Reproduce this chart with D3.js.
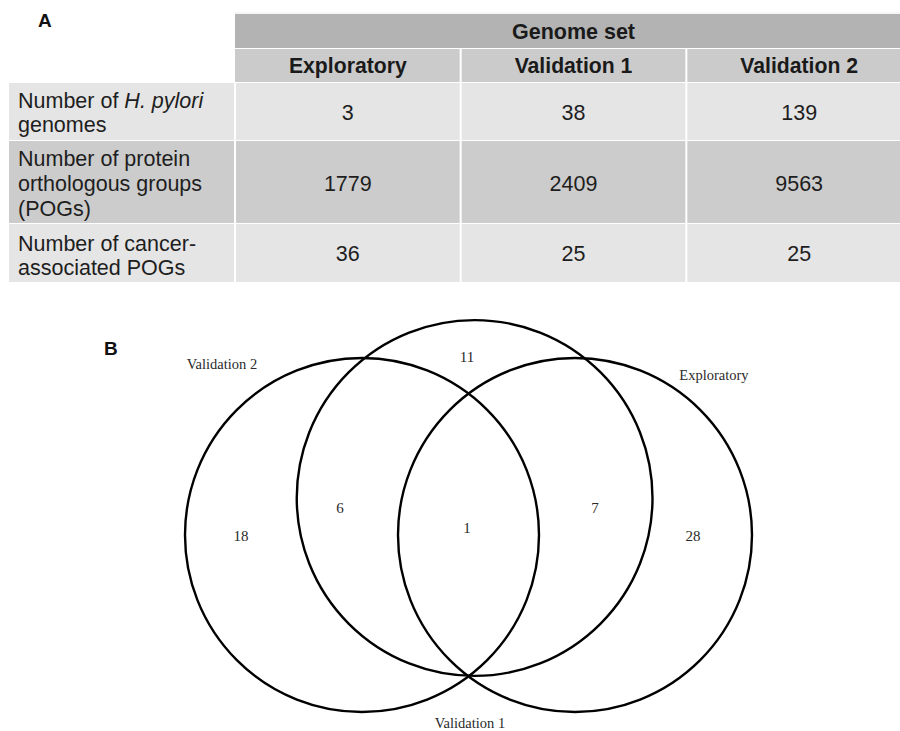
<!DOCTYPE html>
<html>
<head>
<meta charset="utf-8">
<script src="https://cdn.jsdelivr.net/npm/d3@7"></script>
<style>
  html, body { margin: 0; padding: 0; background: #fff; }
  svg { display: block; }
</style>
</head>
<body>
<svg id="fig" width="900" height="731"></svg>
<script>
// ---- Panel A: genome set summary table ----
const genomeSets = ["Exploratory", "Validation 1", "Validation 2"];
const rowLabels = [
  [["Number of ", false], ["H. pylori", true], ["|genomes", false]],
  [["Number of protein", false], ["|orthologous groups", false], ["|(POGs)", false]],
  [["Number of cancer-", false], ["|associated POGs", false]]
];
const genomeCounts = [3, 38, 139];
const pogCounts = [1779, 2409, 9563];
const cancerPogCounts = [36, 25, 25];
const tableRows = [genomeCounts, pogCounts, cancerPogCounts];

// ---- Panel B: overlap of cancer-associated POGs ----
const vennSets = ["Validation 2", "Validation 1", "Exploratory"];
// region counts keyed by membership (V2, V1, Exp)
const vennRegions = [
  { sets: ["Validation 2"], count: 18 },
  { sets: ["Validation 1"], count: 11 },
  { sets: ["Exploratory"], count: 28 },
  { sets: ["Validation 2", "Validation 1"], count: 6 },
  { sets: ["Validation 1", "Exploratory"], count: 7 },
  { sets: ["Validation 2", "Validation 1", "Exploratory"], count: 1 }
];

const svg = d3.select("#fig");
const sans = "'Liberation Sans', Arial, sans-serif";
const serif = "'Liberation Serif', 'Times New Roman', serif";

// panel letters
svg.append("text").attr("x", 38).attr("y", 27).text("A")
  .attr("font-family", sans).attr("font-weight", "bold").attr("font-size", 19).attr("fill", "#111");
svg.append("text").attr("x", 104).attr("y", 355).text("B")
  .attr("font-family", sans).attr("font-weight", "bold").attr("font-size", 19).attr("fill", "#111");

// ---- table layout ----
const colX = d3.scaleBand().domain(genomeSets).range([235, 912]).paddingInner(0);
const labelX0 = 9, labelX1 = 235;
const rowBands = [
  { y0: 83, y1: 140, fill: "#e5e5e5", lines: [100, 124], mid: 112 },
  { y0: 141, y1: 223, fill: "#cccccc", lines: [158, 183, 208], mid: 183 },
  { y0: 224, y1: 282, fill: "#e5e5e5", lines: [243, 267], mid: 253 }
];
const gap = 2;
const table = svg.append("g");

table.append("line").attr("x1", 235).attr("x2", 900).attr("y1", 13).attr("y2", 13)
  .attr("stroke", "#ececec").attr("stroke-width", 1);

// top header: "Genome set"
table.append("rect").attr("x", 235).attr("y", 14).attr("width", 680).attr("height", 34)
  .attr("fill", "#b3b3b3");
table.append("text").attr("x", colX("Validation 1") + colX.bandwidth() / 2).attr("y", 31)
  .attr("dy", "0.35em").attr("text-anchor", "middle")
  .attr("font-family", sans).attr("font-weight", "bold").attr("font-size", 21.5).attr("fill", "#1a1a1a")
  .text("Genome set");

// column headers
genomeSets.forEach((g, i) => {
  table.append("rect").attr("x", colX(g) + (i ? gap / 2 : 0)).attr("y", 49)
    .attr("width", colX.bandwidth() - (i ? gap / 2 : 0) - gap / 2).attr("height", 33)
    .attr("fill", "#cbcbcb");
  table.append("text").attr("x", colX(g) + colX.bandwidth() / 2).attr("y", 65.5)
    .attr("dy", "0.35em").attr("text-anchor", "middle")
    .attr("font-family", sans).attr("font-weight", "bold").attr("font-size", 21.2).attr("fill", "#1a1a1a")
    .text(g);
});

// body rows
rowBands.forEach((band, r) => {
  table.append("rect").attr("x", labelX0).attr("y", band.y0)
    .attr("width", labelX1 - labelX0 - gap / 2).attr("height", band.y1 - band.y0).attr("fill", band.fill);
  genomeSets.forEach((g, i) => {
    table.append("rect").attr("x", colX(g) + gap / 2).attr("y", band.y0)
      .attr("width", colX.bandwidth() - gap).attr("height", band.y1 - band.y0).attr("fill", band.fill);
    table.append("text").attr("x", colX(g) + colX.bandwidth() / 2).attr("y", band.mid)
      .attr("dy", "0.35em").attr("text-anchor", "middle")
      .attr("font-family", sans).attr("font-size", 21.5).attr("fill", "#1e1e1e")
      .text(tableRows[r][i]);
  });
  // label: pieces beginning with "|" start a new line
  let lineIdx = -1, t = null;
  rowLabels[r].forEach(([piece, italic]) => {
    let s = piece;
    if (lineIdx < 0 || s.startsWith("|")) {
      lineIdx++;
      s = s.replace(/^\|/, "");
      t = table.append("text").attr("x", 18).attr("y", band.lines[lineIdx]).attr("dy", "0.35em")
        .attr("font-family", sans).attr("font-size", 21.5).attr("fill", "#1e1e1e");
    }
    t.append("tspan").attr("font-style", italic ? "italic" : "normal").text(s);
  });
});

// ---- Venn diagram ----
// circles laid out in unit coordinates, mapped to pixels with linear scales
const vx = d3.scaleLinear().domain([-1, 1]).range([362, 575]);
const vy = d3.scaleLinear().domain([0, 1]).range([535, 498]);
const vr = d3.scaleLinear().domain([0, 1]).range([0, 177]);
const circles = [
  { set: "Validation 2", cx: -1, cy: 0, r: 1 },
  { set: "Validation 1", cx: 0.0575, cy: 1, r: 1.005 },
  { set: "Exploratory", cx: 1, cy: 0, r: 1 }
];

const venn = svg.append("g");
venn.selectAll("circle").data(circles).join("circle")
  .attr("cx", d => vx(d.cx)).attr("cy", d => vy(d.cy)).attr("r", d => vr(d.r))
  .attr("fill", "none").attr("stroke", "#000").attr("stroke-width", 2.4);

// set names
const setLabelPos = {
  "Validation 2": [222, 364],
  "Validation 1": [470, 723],
  "Exploratory": [714, 375]
};
venn.selectAll("text.set").data(vennSets).join("text").attr("class", "set")
  .attr("x", d => setLabelPos[d][0]).attr("y", d => setLabelPos[d][1]).attr("dy", "0.35em")
  .attr("text-anchor", "middle").attr("font-family", serif).attr("font-size", 14.5).attr("fill", "#2a2a2a")
  .text(d => d);

// region counts
const regionPos = {
  "Validation 2": [241, 536],
  "Validation 1": [467, 357],
  "Exploratory": [693, 536],
  "Validation 2|Validation 1": [340, 508],
  "Validation 1|Exploratory": [595, 508],
  "Validation 2|Validation 1|Exploratory": [467, 528]
};
venn.selectAll("text.count").data(vennRegions).join("text").attr("class", "count")
  .attr("x", d => regionPos[d.sets.join("|")][0]).attr("y", d => regionPos[d.sets.join("|")][1])
  .attr("dy", "0.35em").attr("text-anchor", "middle")
  .attr("font-family", serif).attr("font-size", 15).attr("fill", "#2a2a2a")
  .text(d => d.count);
</script>
</body>
</html>
